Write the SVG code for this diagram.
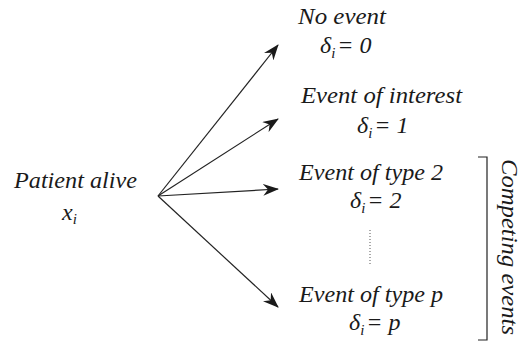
<svg xmlns="http://www.w3.org/2000/svg" width="523" height="342" viewBox="0 0 523 342">
<style>
text{font-family:"Liberation Serif","DejaVu Serif",serif;font-style:italic;font-size:24px;fill:#1a1a1a}
.sub{font-size:15px}
.ln{stroke:#222;stroke-width:1.2;fill:none}
</style>
<defs>
<marker id="ah" markerWidth="16" markerHeight="12" refX="15" refY="6" orient="auto" markerUnits="userSpaceOnUse">
<path d="M0,0 L16,6 L0,12 L5,6 Z" fill="#1a1a1a"/>
</marker>
</defs>
<rect width="523" height="342" fill="#fff"/>
<g id="connectors">
<line class="ln" x1="158" y1="196" x2="278" y2="45" marker-end="url(#ah)"/>
<line class="ln" x1="158" y1="196" x2="278" y2="119" marker-end="url(#ah)"/>
<line class="ln" x1="158" y1="196" x2="278" y2="189" marker-end="url(#ah)"/>
<line class="ln" x1="158" y1="196" x2="278" y2="307" marker-end="url(#ah)"/>
<line x1="370" y1="230" x2="370" y2="265" stroke="#555" stroke-width="1" stroke-dasharray="1,2"/>
</g>
<g id="patient">
<text x="14" y="188" textLength="123" lengthAdjust="spacingAndGlyphs">Patient alive</text>
<text x="62" y="220">x<tspan class="sub" dy="4">i</tspan></text>
</g>
<g id="no-event">
<text x="298" y="24" textLength="88" lengthAdjust="spacingAndGlyphs">No event</text>
<text x="320" y="53">δ<tspan class="sub" dy="5">i</tspan><tspan dy="-5" dx="2">= 0</tspan></text>
</g>
<g id="interest">
<text x="301" y="103" textLength="161" lengthAdjust="spacingAndGlyphs">Event of interest</text>
<text x="357" y="133">δ<tspan class="sub" dy="5">i</tspan><tspan dy="-5" dx="2">= 1</tspan></text>
</g>
<g id="type2">
<text x="299" y="180" textLength="144" lengthAdjust="spacingAndGlyphs">Event of type 2</text>
<text x="350" y="208">δ<tspan class="sub" dy="5">i</tspan><tspan dy="-5" dx="2">= 2</tspan></text>
</g>
<g id="typep">
<text x="299" y="302" textLength="144" lengthAdjust="spacingAndGlyphs">Event of type p</text>
<text x="349" y="330">δ<tspan class="sub" dy="5">i</tspan><tspan dy="-5" dx="2">= p</tspan></text>
</g>
<g id="competing">
<path class="ln" d="M478,157 H487 V340 H478"/>
<text transform="translate(502,159) rotate(90)" textLength="176" lengthAdjust="spacingAndGlyphs">Competing events</text>
</g>
</svg>
